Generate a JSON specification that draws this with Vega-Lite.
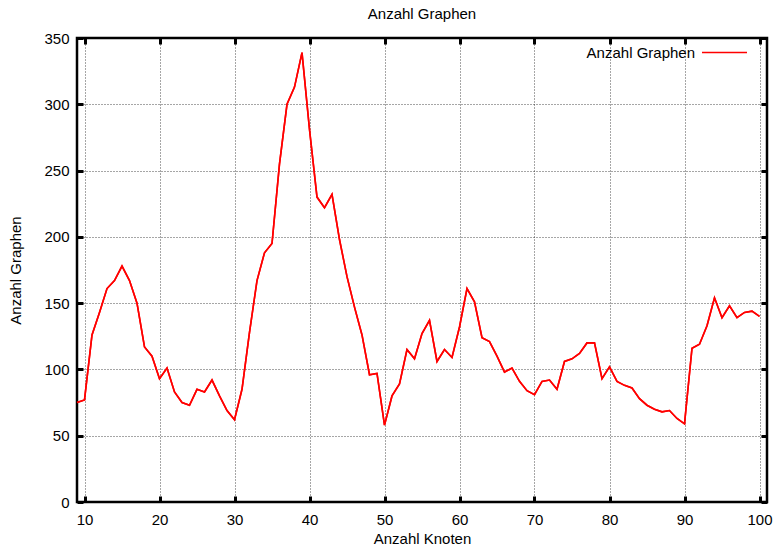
{
  "$schema": "https://vega.github.io/schema/vega-lite/v6.json",
  "width": 690,
  "height": 464,
  "autosize": {"type": "none"},
  "padding": {"left": 77, "top": 38, "right": 9, "bottom": 44},
  "background": "white",
  "title": {"text": "Anzahl Graphen", "font": "Liberation Sans", "fontSize": 15, "fontWeight": "normal", "color": "#000", "offset": 7},
  "config": {
    "font": "Liberation Sans",
    "view": {"stroke": "#000", "strokeWidth": 2.5},
    "axis": {
      "labelFont": "Liberation Sans", "labelFontSize": 15, "labelColor": "#000",
      "titleFont": "Liberation Sans", "titleFontSize": 15, "titleFontWeight": "normal", "titleColor": "#000",
      "domain": false, "tickColor": "#000", "tickWidth": 3, "tickSize": -6,
      "gridColor": "#000", "gridDash": [1, 2], "gridWidth": 1, "gridOpacity": 0.7
    }
  },
  "data": {"values": [
    {"n": 9, "g": 75}, {"n": 10, "g": 77}, {"n": 11, "g": 126}, {"n": 12, "g": 143}, {"n": 13, "g": 161},
    {"n": 14, "g": 167}, {"n": 15, "g": 178}, {"n": 16, "g": 167}, {"n": 17, "g": 150}, {"n": 18, "g": 117},
    {"n": 19, "g": 110}, {"n": 20, "g": 93}, {"n": 21, "g": 101}, {"n": 22, "g": 83}, {"n": 23, "g": 75},
    {"n": 24, "g": 73}, {"n": 25, "g": 85}, {"n": 26, "g": 83}, {"n": 27, "g": 92}, {"n": 28, "g": 80},
    {"n": 29, "g": 69}, {"n": 30, "g": 62}, {"n": 31, "g": 85}, {"n": 32, "g": 128}, {"n": 33, "g": 167},
    {"n": 34, "g": 188}, {"n": 35, "g": 195}, {"n": 36, "g": 255}, {"n": 37, "g": 300}, {"n": 38, "g": 313},
    {"n": 39, "g": 339}, {"n": 40, "g": 281}, {"n": 41, "g": 230}, {"n": 42, "g": 222}, {"n": 43, "g": 232},
    {"n": 44, "g": 198}, {"n": 45, "g": 170}, {"n": 46, "g": 147}, {"n": 47, "g": 126}, {"n": 48, "g": 96},
    {"n": 49, "g": 97}, {"n": 50, "g": 58}, {"n": 51, "g": 80}, {"n": 52, "g": 89}, {"n": 53, "g": 115},
    {"n": 54, "g": 108}, {"n": 55, "g": 127}, {"n": 56, "g": 137}, {"n": 57, "g": 106}, {"n": 58, "g": 115},
    {"n": 59, "g": 109}, {"n": 60, "g": 132}, {"n": 61, "g": 161}, {"n": 62, "g": 151}, {"n": 63, "g": 124},
    {"n": 64, "g": 121}, {"n": 65, "g": 110}, {"n": 66, "g": 98}, {"n": 67, "g": 101}, {"n": 68, "g": 91},
    {"n": 69, "g": 84}, {"n": 70, "g": 81}, {"n": 71, "g": 91}, {"n": 72, "g": 92}, {"n": 73, "g": 85},
    {"n": 74, "g": 106}, {"n": 75, "g": 108}, {"n": 76, "g": 112}, {"n": 77, "g": 120}, {"n": 78, "g": 120},
    {"n": 79, "g": 93}, {"n": 80, "g": 102}, {"n": 81, "g": 91}, {"n": 82, "g": 88}, {"n": 83, "g": 86},
    {"n": 84, "g": 78}, {"n": 85, "g": 73}, {"n": 86, "g": 70}, {"n": 87, "g": 68}, {"n": 88, "g": 69},
    {"n": 89, "g": 63}, {"n": 90, "g": 59}, {"n": 91, "g": 116}, {"n": 92, "g": 119}, {"n": 93, "g": 133},
    {"n": 94, "g": 154}, {"n": 95, "g": 139}, {"n": 96, "g": 148}, {"n": 97, "g": 139}, {"n": 98, "g": 143},
    {"n": 99, "g": 144}, {"n": 100, "g": 140}
  ]},
  "layer": [
    {
      "mark": {"type": "line", "strokeWidth": 1.6},
      "encoding": {
        "x": {"field": "n", "type": "quantitative", "scale": {"domain": [9, 101], "nice": false, "zero": false},
              "axis": {"orient": "bottom", "title": "Anzahl Knoten", "values": [10, 20, 30, 40, 50, 60, 70, 80, 90, 100], "labelPadding": 16, "titlePadding": 4}},
        "y": {"field": "g", "type": "quantitative", "scale": {"domain": [0, 350], "nice": false},
              "axis": {"orient": "left", "title": "Anzahl Graphen", "values": [0, 50, 100, 150, 200, 250, 300, 350], "labelPadding": 14, "titlePadding": 20}},
        "color": {"datum": "Anzahl Graphen", "type": "nominal", "scale": {"range": ["#ff0000"]},
                  "legend": {"title": null, "orient": "none", "legendX": 624, "legendY": -9, "symbolType": "stroke", "symbolSize": 2025, "symbolStrokeWidth": 1.6,
                             "labelFont": "Liberation Sans", "labelFontSize": 15, "labelColor": "#000", "labelAlign": "right", "labelOffset": -53, "padding": 0}}
      }
    },
    {
      "mark": {"type": "line", "strokeWidth": 1.6, "color": "#ff0000"},
      "encoding": {
        "x": {"field": "n", "type": "quantitative",
              "axis": {"orient": "top", "title": null, "labels": false, "grid": false, "values": [10, 20, 30, 40, 50, 60, 70, 80, 90, 100]}},
        "y": {"field": "g", "type": "quantitative",
              "axis": {"orient": "right", "title": null, "labels": false, "grid": false, "values": [0, 50, 100, 150, 200, 250, 300, 350]}}
      }
    }
  ],
  "resolve": {"axis": {"x": "independent", "y": "independent"}}
}
